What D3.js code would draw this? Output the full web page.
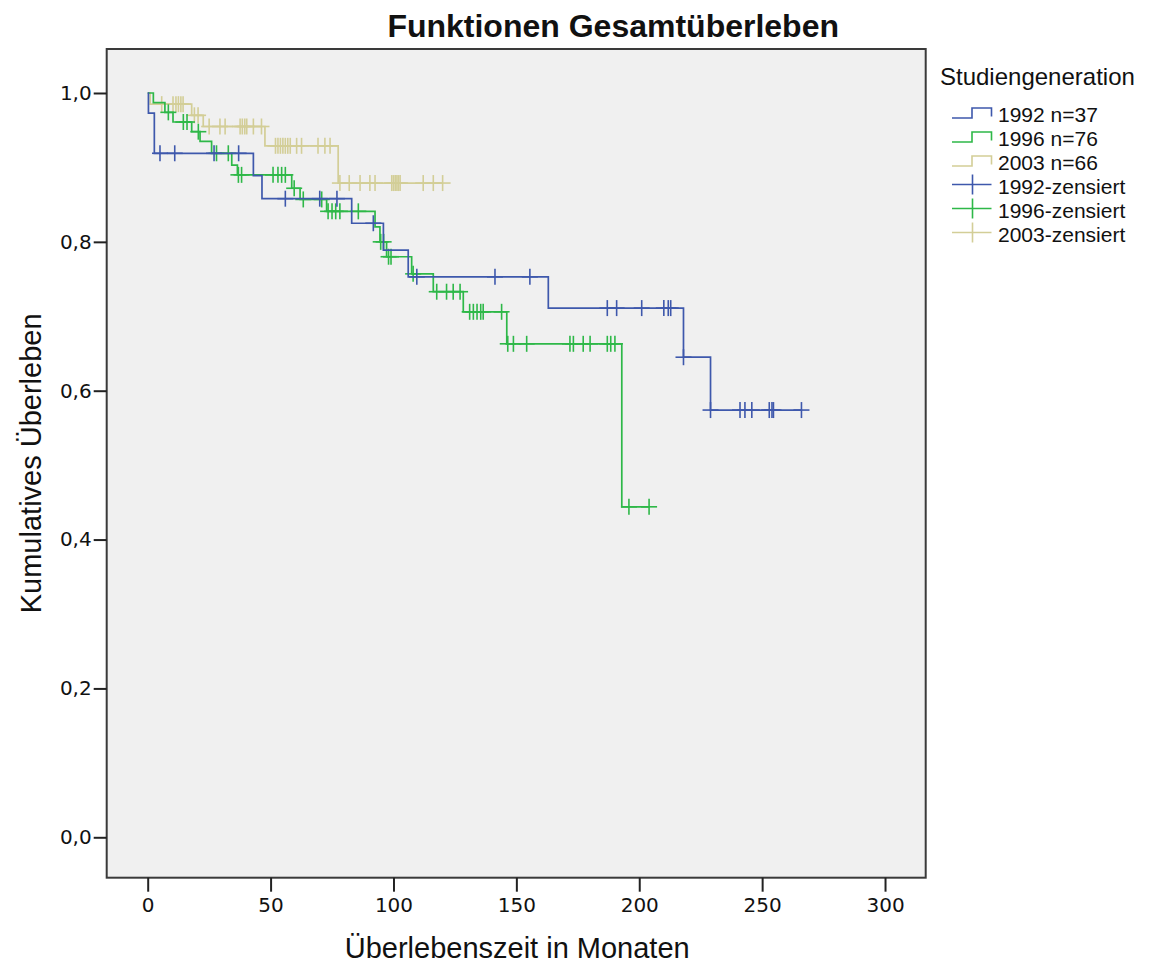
<!DOCTYPE html>
<html>
<head>
<meta charset="utf-8">
<script src="https://cdn.jsdelivr.net/npm/d3@7"></script>
<style>
body { margin: 0; background: #fff; }
text { font-family: "Liberation Sans", Arial, sans-serif; fill: #111; }
</style>
</head>
<body>
<div id="chart"></div>
<script>
// steps: [monat, ueberleben], last point = last observation
var steps1992 = [[0, 1.0], [0.3, 0.973], [2.7, 0.919], [43, 0.889], [46.5, 0.858], [83, 0.825], [95.9, 0.789], [106, 0.753], [163, 0.711], [218, 0.645], [229, 0.574], [266, 0.574]];
var steps1996 = [[0, 1.0], [2.3, 0.987], [7, 0.974], [10.3, 0.961], [17.9, 0.948], [21.3, 0.935], [26, 0.919], [34.2, 0.903], [36.5, 0.890], [58.6, 0.872], [62, 0.857], [72.8, 0.841], [92.5, 0.820], [94.5, 0.800], [97.2, 0.780], [107.4, 0.757], [116.2, 0.733], [128.4, 0.706], [146.1, 0.663], [192.9, 0.444], [204, 0.444]];
var steps2003 = [[0, 1.0], [1, 0.985], [17.9, 0.970], [22.6, 0.955], [47.7, 0.929], [77.5, 0.879], [120, 0.879]];

var zens1992 = [5, 11, 27, 37, 56, 70, 77, 91.8, 109.5, 141.3, 155.5, 187, 190.8, 201, 210, 211.8, 212.8, 218, 229, 241, 243, 245.8, 252.9, 254, 254.6, 266];
var zens1996 = [8.4, 14.5, 16, 20.6, 28, 32.8, 36.9, 38.2, 51, 53, 54.5, 56, 59.6, 63.3, 70.8, 73.4, 75, 76.5, 78.2, 85.7, 94.8, 96, 98, 99, 108, 117.6, 121.6, 124.3, 127.1, 131, 132.5, 134, 135.5, 136.5, 144, 146.5, 148.8, 154.2, 171.8, 173.2, 177.2, 180, 187, 188.4, 190.1, 195.8, 204];
var zens2003 = [5.7, 10.3, 11.5, 12.5, 13.5, 14.4, 19, 20.5, 25, 29.4, 31.5, 37.6, 38.5, 39.5, 40.3, 43, 46.3, 52, 53, 54, 55, 56, 57, 58, 60.6, 62.6, 69.3, 72.1, 74.2, 78.2, 82, 86.4, 90.4, 92.5, 99.3, 100, 100.7, 101.4, 102, 102.7, 112.1, 116.2, 120];

var gruppen = ["1992 n=37", "1996 n=76", "2003 n=66"];
var zensLabels = ["1992-zensiert", "1996-zensiert", "2003-zensiert"];
var farben = ["#3e58ac", "#2eb848", "#d3ce97"];
var xTicks = [0, 50, 100, 150, 200, 250, 300];
var yTicks = [0, 0.2, 0.4, 0.6, 0.8, 1.0];

var width = 1162, height = 965;
var plotL = 106.7, plotR = 925.7, plotT = 49, plotB = 877.7;

var svg = d3.select("#chart").append("svg")
	.attr("width", width)
	.attr("height", height);

var x = d3.scaleLinear().domain([-16.68, 316.55]).range([plotL, plotR]);
var y = d3.scaleLinear().domain([-0.0543, 1.0591]).range([plotB, plotT]);

svg.append("rect")
	.attr("x", plotL).attr("y", plotT)
	.attr("width", plotR - plotL).attr("height", plotB - plotT)
	.attr("fill", "#f0f0f0");

function survivalAt(steps, t) {
	var s = steps[0][1];
	for(var i = 0; i < steps.length; i++)
		if(steps[i][0] <= t) s = steps[i][1];
	return s;
}

var line = d3.line()
	.x(function(d) { return x(d[0]); })
	.y(function(d) { return y(d[1]); })
	.curve(d3.curveStepAfter);

var serien = [
	{steps: steps1992, zens: zens1992, farbe: farben[0]},
	{steps: steps1996, zens: zens1996, farbe: farben[1]},
	{steps: steps2003, zens: zens2003, farbe: farben[2]}
];

// 2003 first so 1992 stays on top like the original
[2, 1, 0].forEach(function(k) {
	var s = serien[k];
	svg.append("path")
		.attr("d", line(s.steps))
		.attr("fill", "none")
		.attr("stroke", s.farbe)
		.attr("stroke-width", 1.7);

	var g = svg.append("g").attr("stroke", s.farbe).attr("stroke-width", 1.6);
	s.zens.forEach(function(t) {
		var cx = x(t), cy = y(survivalAt(s.steps, t));
		g.append("line").attr("x1", cx).attr("x2", cx).attr("y1", cy - 8).attr("y2", cy + 8);
		g.append("line").attr("x1", cx - 8).attr("x2", cx + 8).attr("y1", cy).attr("y2", cy);
	});
});

svg.append("rect")
	.attr("x", plotL).attr("y", plotT)
	.attr("width", plotR - plotL).attr("height", plotB - plotT)
	.attr("fill", "none")
	.attr("stroke", "#3a3a3a")
	.attr("stroke-width", 2);

var xAxis = svg.append("g")
	.attr("transform", "translate(0," + plotB + ")")
	.call(d3.axisBottom(x).tickValues(xTicks).tickSize(14).tickPadding(6).tickFormat(d3.format("d")));
xAxis.select(".domain").remove();
xAxis.selectAll("line").attr("stroke", "#222").attr("stroke-width", 2);
xAxis.selectAll("text")
	.style("font-family", "'DejaVu Sans', sans-serif")
	.style("font-size", "20px")
	.attr("fill", "#222");

var yAxis = svg.append("g")
	.attr("transform", "translate(" + plotL + ",0)")
	.call(d3.axisLeft(y).tickValues(yTicks).tickSize(13).tickPadding(2)
		.tickFormat(function(d) { return d3.format(".1f")(d).replace(".", ","); }));
yAxis.select(".domain").remove();
yAxis.selectAll("line").attr("stroke", "#222").attr("stroke-width", 2);
yAxis.selectAll("text")
	.style("font-family", "'DejaVu Sans', sans-serif")
	.style("font-size", "20px")
	.attr("fill", "#222");

svg.append("text")
	.attr("x", (plotL + plotR) / 2 + 97).attr("y", 37)
	.attr("text-anchor", "middle")
	.style("font-size", "32px")
	.style("font-weight", "bold")
	.text("Funktionen Gesamtüberleben");

svg.append("text")
	.attr("x", (plotL + plotR) / 2 + 1).attr("y", 958)
	.attr("text-anchor", "middle")
	.style("font-size", "29px")
	.text("Überlebenszeit in Monaten");

svg.append("text")
	.attr("transform", "translate(41," + ((plotT + plotB) / 2) + ") rotate(-90)")
	.attr("text-anchor", "middle")
	.style("font-size", "29px")
	.text("Kumulatives Überleben");

// legende
var lg = svg.append("g");
lg.append("text")
	.attr("x", 940).attr("y", 85)
	.style("font-size", "24px")
	.text("Studiengeneration");

gruppen.forEach(function(name, i) {
	var base = 121.5 + i * 24;
	lg.append("path")
		.attr("d", "M952," + (base - 3.5) + "H972V" + (base - 13.5) + "H991.5V" + (base - 5))
		.attr("fill", "none")
		.attr("stroke", farben[i])
		.attr("stroke-width", 1.6);
	lg.append("text")
		.attr("x", 998).attr("y", base)
		.style("font-size", "21px")
		.text(name);
});

zensLabels.forEach(function(name, i) {
	var base = 121.5 + (i + 3) * 24;
	var cy = base - 9;
	lg.append("line")
		.attr("x1", 952).attr("x2", 991.5).attr("y1", cy).attr("y2", cy)
		.attr("stroke", farben[i]).attr("stroke-width", 1.6);
	lg.append("line")
		.attr("x1", 972.5).attr("x2", 972.5).attr("y1", cy - 10).attr("y2", cy + 10)
		.attr("stroke", farben[i]).attr("stroke-width", 1.6);
	lg.append("text")
		.attr("x", 998).attr("y", base)
		.style("font-size", "21px")
		.text(name);
});
</script>
</body>
</html>
